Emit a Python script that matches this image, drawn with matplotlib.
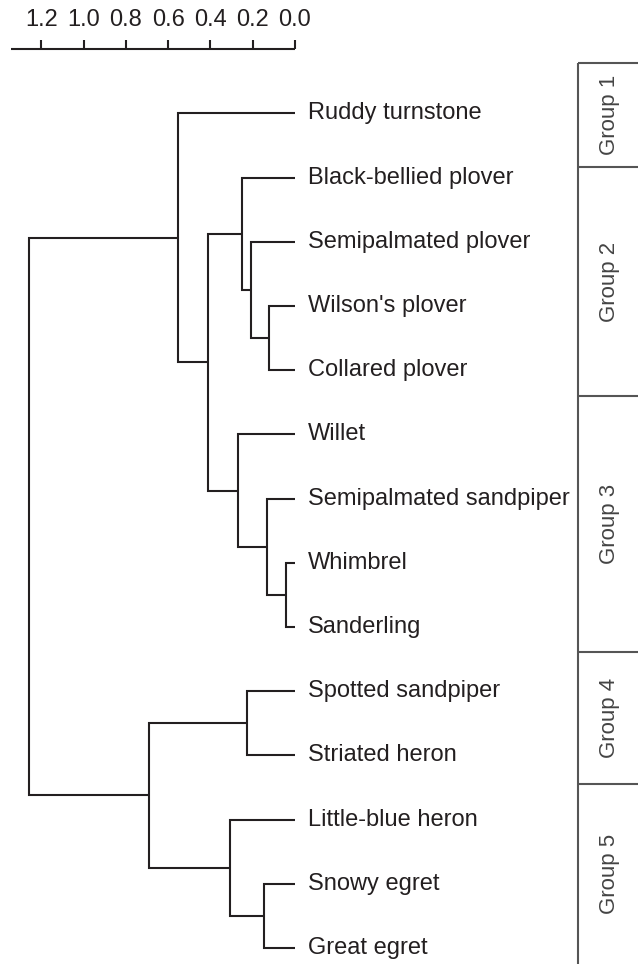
import matplotlib
matplotlib.use("Agg")
import matplotlib.pyplot as plt

# ---- data ----
leaves = ["Ruddy turnstone", "Black-bellied plover", "Semipalmated plover",
          "Wilson's plover", "Collared plover", "Willet",
          "Semipalmated sandpiper", "Whimbrel", "Sanderling",
          "Spotted sandpiper", "Striated heron", "Little-blue heron",
          "Snowy egret", "Great egret"]

# merges like a linkage table: (left id, right id, height); new ids start at len(leaves)
merge_left = [7, 3, 6, 12, 2, 9, 1, 5, 11, 20, 0, 19, 24]
merge_right = [8, 4, 14, 13, 15, 10, 18, 16, 17, 21, 23, 22, 25]
merge_height = [0.044, 0.124, 0.134, 0.145, 0.21, 0.228, 0.249, 0.271,
                0.307, 0.41, 0.552, 0.692, 1.256]

scale_ticks = [1.2, 1.0, 0.8, 0.6, 0.4, 0.2, 0.0]

group_names = ["Group 1", "Group 2", "Group 3", "Group 4", "Group 5"]
group_edges = [-0.78, 0.84, 4.41, 8.39, 10.45, 13.25]

plt.rcParams['font.family'] = ['Liberation Sans', 'DejaVu Sans']

fig = plt.figure(figsize=(6.38, 9.64), dpi=100)
ax = fig.add_axes([0, 0, 1, 1])
ax.set_xlim(1.395, -1.622)
ax.set_ylim(13.25, -1.765)
ax.axis("off")

LC = "#231f20"
LW = 1.5

# node positions
xpos = {i: 0.0 for i in range(len(leaves))}
ypos = {i: float(i) for i in range(len(leaves))}
n = len(leaves)
for k, (a, b, h) in enumerate(zip(merge_left, merge_right, merge_height)):
    nid = n + k
    ax.plot([xpos[a], h, h, xpos[b]], [ypos[a], ypos[a], ypos[b], ypos[b]],
            color=LC, lw=LW, solid_joinstyle="miter", solid_capstyle="butt")
    xpos[nid] = h
    ypos[nid] = (ypos[a] + ypos[b]) / 2

for i, name in enumerate(leaves):
    ax.text(-0.06, i, name, fontsize=17, color=LC, va="center", ha="left")

# scale bar
ax.plot([1.343, 0.0], [-1.0, -1.0], color=LC, lw=LW, solid_capstyle="butt")
for t in scale_ticks:
    ax.plot([t, t], [-1.0, -1.14], color=LC, lw=LW, solid_capstyle="butt")
    ax.text(t, -1.45, f"{t:.1f}", fontsize=17, color=LC, ha="center", va="center")

# group brackets
GC = "#555555"
bx = -1.338
ax.plot([bx, bx], [group_edges[0], group_edges[-1]], color=GC, lw=1.5,
        solid_capstyle="butt")
for e in group_edges[:-1]:
    ax.plot([bx, -1.7], [e, e], color=GC, lw=1.5, solid_capstyle="butt")
for g, lo, hi in zip(group_names, group_edges[:-1], group_edges[1:]):
    ax.text(-1.485, (lo + hi) / 2, g, fontsize=16, color="#444444",
            rotation=90, ha="center", va="center")

fig.savefig("out.png", dpi=100)
